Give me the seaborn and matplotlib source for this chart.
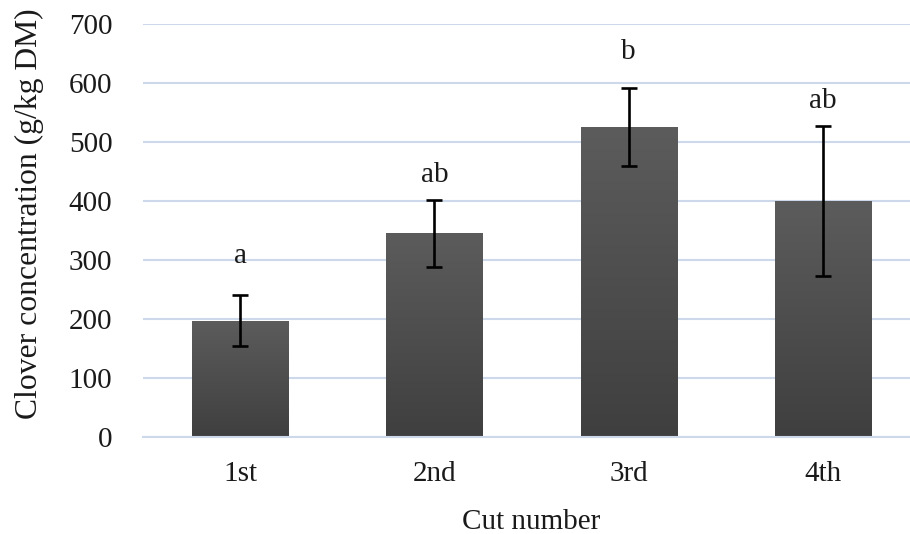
import numpy as np
import pandas as pd
import matplotlib
matplotlib.use("Agg")
import matplotlib.pyplot as plt
import seaborn as sns

# ---- data ----
cuts = ["1st", "2nd", "3rd", "4th"]
clover = [197, 345, 525, 400]
err = [43, 57, 66, 127]
letters = ["a", "ab", "b", "ab"]

# layout (not data)
label_offsets = [55, 30, 49, 30]

df = pd.DataFrame({"Cut": cuts, "Clover": clover})

sns.set_theme(style="white")
plt.rcParams["font.family"] = ["Liberation Serif", "DejaVu Serif"]

fig = plt.figure(figsize=(9.10, 5.34), dpi=100)
ax = fig.add_axes([143 / 910, 1 - 437 / 534, 777 / 910, 413 / 534])

sns.barplot(data=df, x="Cut", y="Clover", ax=ax, color="#4a4a4a",
            width=0.495, errorbar=None, saturation=1, zorder=2)

# gradient fill for bars
grad = np.linspace(0, 1, 256).reshape(-1, 1)
cmap = matplotlib.colors.LinearSegmentedColormap.from_list(
    "g", ["#3f3f3f", "#5c5c5c"])
for p in ax.patches:
    x0, y0 = p.get_x(), p.get_y()
    w, h = p.get_width(), p.get_height()
    im = ax.imshow(grad, extent=[x0, x0 + w, y0, y0 + h], origin="lower",
                   cmap=cmap, aspect="auto", zorder=2.5)
    im.set_clip_path(p)
    p.set_edgecolor("none")

xs = np.arange(len(cuts))
ax.errorbar(xs, clover, yerr=err, fmt="none", ecolor="black",
            elinewidth=1.9, capsize=5.5, capthick=1.9, zorder=4)

for x, v, e, t, off in zip(xs, clover, err, letters, label_offsets):
    ax.text(x, v + e + off, t, ha="center", va="baseline", fontsize=21,
            color="#1a1a1a")

ax.set_xlim(-0.5, 3.5)
ax.set_ylim(0, 700)
ax.set_yticks(range(0, 701, 100))
ax.yaxis.grid(True, color="#cdd9ea", linewidth=1.5, zorder=0)
ax.xaxis.grid(False)
ax.set_axisbelow(True)
for s in ["top", "right", "left"]:
    ax.spines[s].set_visible(False)
ax.spines["bottom"].set_color("#cdd9ea")
ax.spines["bottom"].set_linewidth(1.5)

ax.tick_params(axis="y", length=0, pad=22, labelsize=21, labelcolor="#1a1a1a")
ax.tick_params(axis="x", length=0, pad=17, labelsize=21, labelcolor="#1a1a1a")
ax.set_xlabel("Cut number", fontsize=21, color="#1a1a1a", labelpad=16)
ax.set_ylabel("Clover concentration (g/kg DM)", fontsize=22.8,
              color="#1a1a1a")
ax.yaxis.set_label_coords(-0.128, 0.54)

fig.savefig("out.png", dpi=100)
